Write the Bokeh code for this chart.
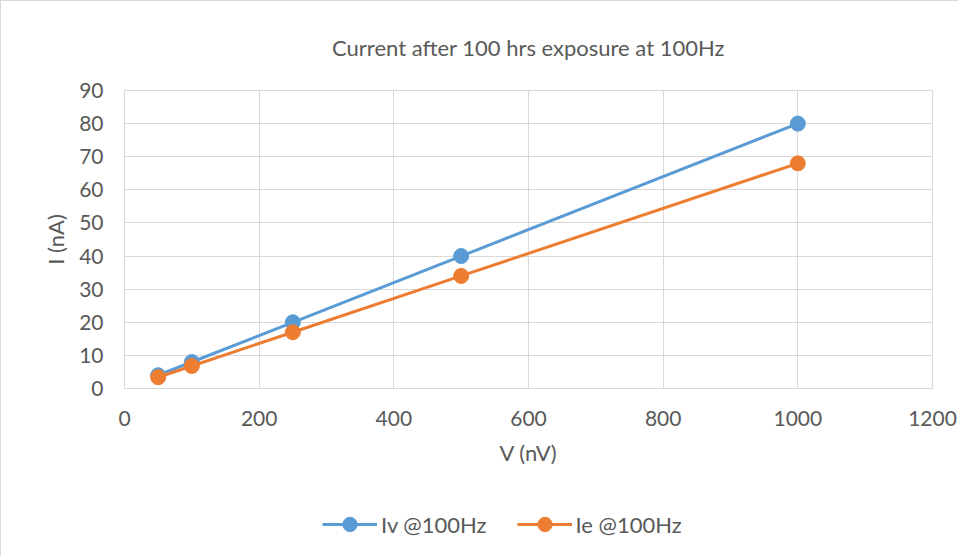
from bokeh.plotting import figure
from bokeh.layouts import column
from bokeh.models import Legend, LegendItem, FixedTicker, Range1d
from bokeh.embed import file_html
from bokeh.resources import INLINE

voltage = [50, 100, 250, 500, 1000]
iv_100hz = [4, 8, 20, 40, 80]
ie_100hz = [3.4, 6.8, 17, 34, 68]
x_ticks = [0, 200, 400, 600, 800, 1000, 1200]
y_ticks = [0, 10, 20, 30, 40, 50, 60, 70, 80, 90]
series_labels = ["Iv @100Hz", "Ie @100Hz"]

FONT = "Lato"
GREY = "#595959"
BLUE = "#5b9bd5"
ORANGE = "#ed7d31"

p = figure(frame_width=808, frame_height=298, output_backend="svg", toolbar_location=None,
           x_range=Range1d(0, 1200), y_range=Range1d(0, 90),
           min_border_left=123, min_border_right=26, min_border_top=86, min_border_bottom=100,
           title="Current after 100 hrs exposure at 100Hz")
p.title.align = "center"
p.title.text_font = FONT
p.title.text_font_style = "normal"
p.title.text_font_size = "22px"
p.title.text_color = GREY
p.title.offset = 0
p.title.standoff = 60

p.xaxis.ticker = FixedTicker(ticks=x_ticks)
p.yaxis.ticker = FixedTicker(ticks=y_ticks)
for ax in (p.xaxis[0], p.yaxis[0]):
    ax.major_tick_line_color = None
    ax.minor_tick_line_color = None
    ax.axis_line_color = "#d9d9d9"
    ax.major_label_text_font = FONT
    ax.major_label_text_font_size = "21px"
    ax.major_label_text_color = GREY
    ax.axis_label_text_font = FONT
    ax.axis_label_text_font_size = "22px"
    ax.axis_label_text_font_style = "normal"
    ax.axis_label_text_color = GREY
p.xaxis.axis_label = "V (nV)"
p.yaxis.axis_label = "I (nA)"
p.xaxis.major_label_standoff = 16
p.yaxis.major_label_standoff = 15
p.xaxis.axis_label_standoff = 10
p.yaxis.axis_label_standoff = 7

p.xgrid.grid_line_color = "#d9d9d9"
p.ygrid.grid_line_color = "#d9d9d9"
p.outline_line_color = "#d9d9d9"

p.line(voltage, iv_100hz, line_color=BLUE, line_width=3)
p.scatter(voltage, iv_100hz, size=15, fill_color=BLUE, line_color=BLUE)
p.line(voltage, ie_100hz, line_color=ORANGE, line_width=3)
p.scatter(voltage, ie_100hz, size=15, fill_color=ORANGE, line_color=ORANGE)

# legend strip below the chart (its renderers lie outside its visible range)
lg = figure(width=957, height=68, output_backend="svg", toolbar_location=None,
            x_range=Range1d(0, 1), y_range=Range1d(0, 1),
            x_axis_type=None, y_axis_type=None, min_border=0)
lg.outline_line_color = None
lg.xgrid.visible = False
lg.ygrid.visible = False
items = []
for label, color in zip(series_labels, [BLUE, ORANGE]):
    lr = lg.line([5, 6], [5, 6], line_color=color, line_width=3)
    sr = lg.scatter([5.5], [5.5], size=15, fill_color=color, line_color=color)
    items.append(LegendItem(label=label, renderers=[lr, sr]))
legend = Legend(items=items, orientation="horizontal", location=(198, 14),
                label_text_font=FONT, label_text_font_size="22px", label_text_color=GREY,
                border_line_color=None, background_fill_alpha=0,
                glyph_width=55, glyph_height=36, label_standoff=4, spacing=30,
                padding=0, margin=0)
lg.add_layout(legend, "center")

layout = column(p, lg, spacing=0,
                styles={"border-left": "1px solid #d9d9d9", "border-top": "1px solid #d9d9d9"})

open("out.html", "w").write(file_html(layout, INLINE))
